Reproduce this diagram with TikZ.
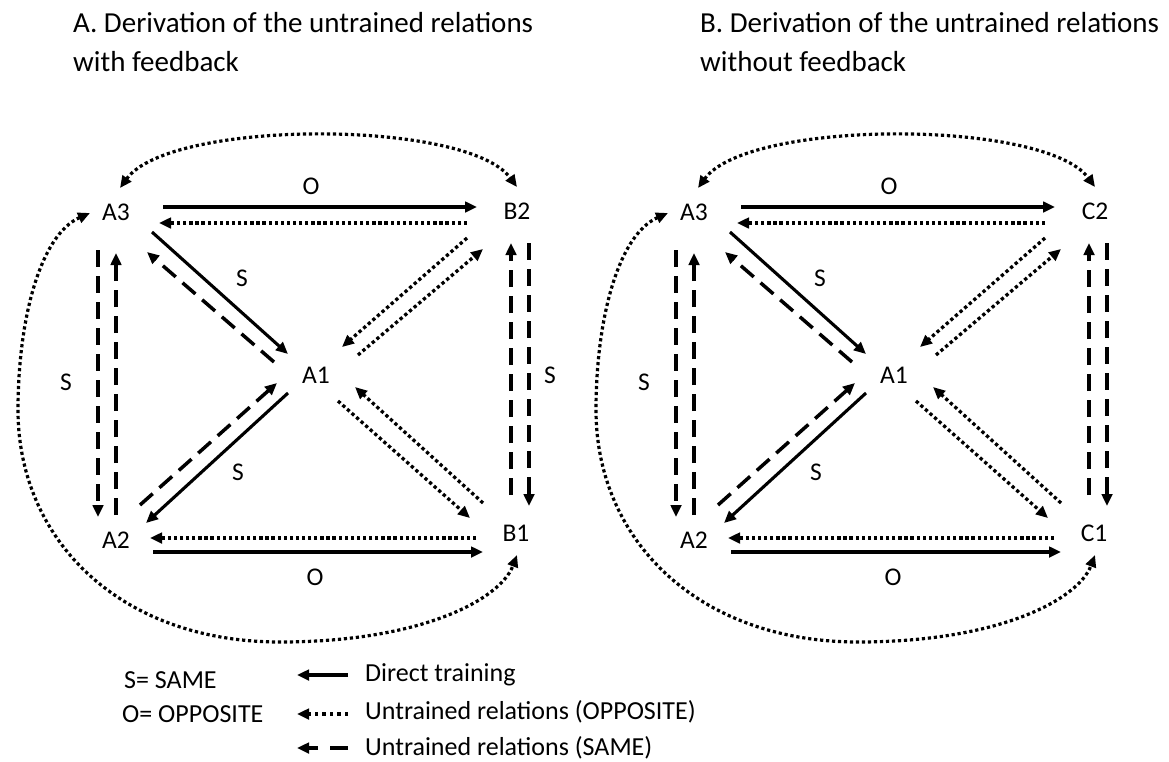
\documentclass[tikz,border=0pt]{standalone}
\usepackage{fontspec}
\setmainfont{Carlito}
\usetikzlibrary{arrows.meta,calc}
\tikzset{
  lab/.style={font=\fontsize{25.5}{30}\selectfont, inner sep=0pt},
  keytext/.style={font=\fontsize{26}{31}\selectfont, inner sep=0pt, anchor=west},
  heading/.style={font=\fontsize{29}{36}\selectfont, inner sep=0pt, anchor=base west},
  tip/.tip={Triangle[length=12pt,width=10.5pt]},
  trained/.style={line width=3.1pt, -tip},
  opp/.style={line width=3.3pt, dash pattern=on 3.3pt off 2.8pt, -tip},
  same/.style={line width=3.5pt, dash pattern=on 17pt off 9pt, -tip},
  loop/.style={line width=3.2pt, dash pattern=on 3.2pt off 2.8pt, tip-tip},
}
% One panel of the relational network: #1 name prefix, #2 top-right, #3 bottom-right
\newcommand\relpanel[3]{%
  \node[lab] (#1A3) at (116,212) {A3};
  \node[lab] (#1R2) at (517,211) {#2};
  \node[lab] (#1A1) at (316,375) {A1};
  \node[lab] (#1A2) at (116,540) {A2};
  \node[lab] (#1R1) at (516,533) {#3};
  % top and bottom pairs
  \draw[trained] ($(#1A3.center)+(47,-5)$) -- ($(#1R2.center)+(-40,-4)$);
  \draw[opp] ($(#1R2.center)+(-50,12)$) -- ($(#1A3.center)+(43,11)$);
  \draw[trained] ($(#1A2.center)+(37,12)$) -- ($(#1R1.center)+(-33,19)$);
  \draw[opp] ($(#1R1.center)+(-40,5)$) -- ($(#1A2.center)+(34,-2)$);
  \node[lab] (#1o1) at (311,186) {O};
  \node[lab] (#1o2) at (315,577) {O};
  % left and right pairs
  \draw[same] ($(#1A3.center)+(-18,38)$) -- ($(#1A2.center)+(-18,-23)$);
  \draw[same] ($(#1A2.center)+(0,-25)$) -- ($(#1A3.center)+(0,41)$);
  \draw[same] ($(#1R1.center)+(-5,-38)$) -- ($(#1R2.center)+(-6,32)$);
  \draw[same] ($(#1R2.center)+(12,32)$) -- ($(#1R1.center)+(13,-27)$);
  \node[lab] (#1s1) at (66,382) {S};
  % diagonals through A1
  \draw[trained] ($(#1A3.center)+(36,20)$) -- ($(#1A1.center)+(-28,-21)$);
  \draw[same] ($(#1A1.center)+(-42,-13)$) -- ($(#1A3.center)+(31,40)$);
  \draw[trained] ($(#1A1.center)+(-28,18)$) -- ($(#1A2.center)+(30,-17)$);
  \draw[same] ($(#1A2.center)+(24,-35)$) -- ($(#1A1.center)+(-39,8)$);
  \node[lab] (#1s2) at (242,278) {S};
  \node[lab] (#1s3) at (238,472) {S};
  \draw[opp] ($(#1R2.center)+(-50,27)$) -- ($(#1A1.center)+(26,-28)$);
  \draw[opp] ($(#1A1.center)+(42,-20)$) -- ($(#1R2.center)+(-34,38)$);
  \draw[opp] ($(#1R1.center)+(-33,-30)$) -- ($(#1A1.center)+(39,12)$);
  \draw[opp] ($(#1A1.center)+(22,26)$) -- ($(#1R1.center)+(-46,-15)$);
  % outer loops
  \draw[loop] ($(#1A3.center)+(4,-24)$) .. controls (170,119) and (467,119) .. ($(#1R2.center)+(0,-24)$);
  \draw[loop] ($(#1A3.center)+(-26,1)$) .. controls (40,235) and (18,320) .. (18,410)
     .. controls (18,540) and (120,642) .. (280,642)
     .. controls (420,642) and (500,600) .. ($(#1R1.center)+(1,22)$);
}
\begin{document}
\begin{tikzpicture}[x=1pt,y=-1pt]
  \fill[white] (0,0) rectangle (1169,761);
  \useasboundingbox (0,0) rectangle (1169,761);
  % headings
  \node[heading] (tA1) at (73,32) {A. Derivation of the untrained relations};
  \node[heading] (tA2) at (73,71) {with feedback};
  \node[heading] (tB1) at (700,32) {B. Derivation of the untrained relations};
  \node[heading] (tB2) at (700,71) {without feedback};
  % panel A
  \relpanel{a}{B2}{B1}
  \node[lab] (as4) at (550,375) {S};
  % panel B
  \begin{scope}[xshift=578]
    \relpanel{b}{C2}{C1}
  \end{scope}
  % key
  \node[keytext] (kS) at (124,680) {S= SAME};
  \node[keytext] (kO) at (122,714) {O= OPPOSITE};
  \node[keytext] (k1) at (365,675) {Direct training};
  \node[keytext] (k2) at (365,712) {Untrained relations (OPPOSITE)};
  \node[keytext] (k3) at (365,748) {Untrained relations (SAME)};
  \draw[trained] ($(k1.west)+(-17,0)$) -- ($(k1.west)+(-68,0)$);
  \draw[opp, dash pattern=on 3.5pt off 4pt] ($(k2.west)+(-17,2)$) -- ($(k2.west)+(-68,2)$);
  \draw[same, dash pattern=on 18pt off 12pt] ($(k3.west)+(-17,0)$) -- ($(k3.west)+(-68,0)$);
\end{tikzpicture}
\end{document}
